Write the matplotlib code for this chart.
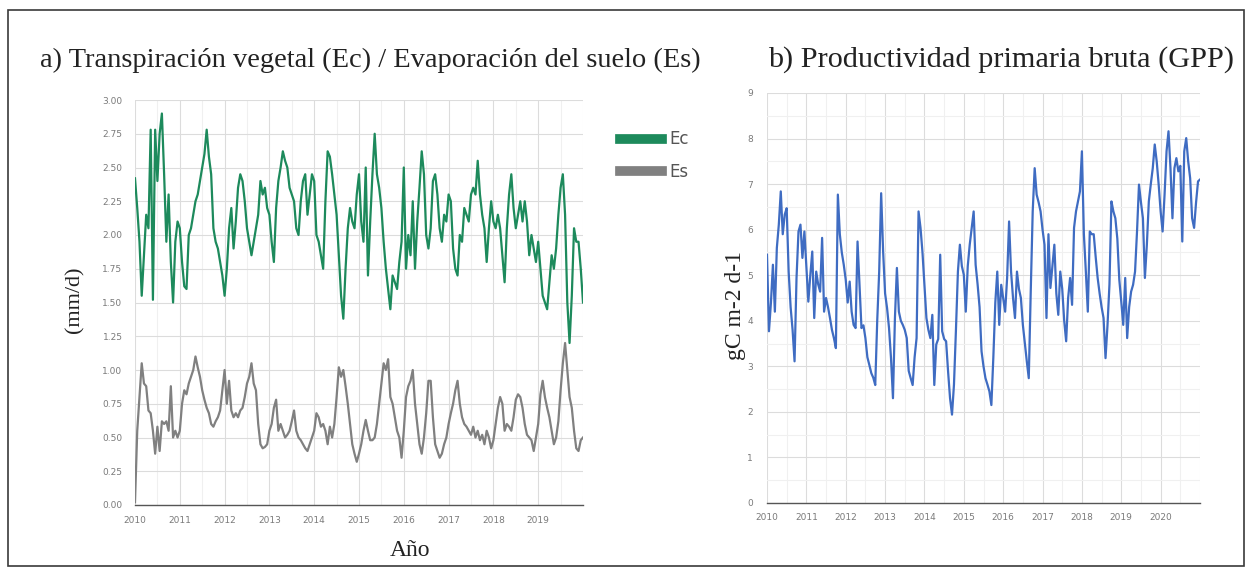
import numpy as np
import matplotlib
matplotlib.use("Agg")
import matplotlib.pyplot as plt
from matplotlib.lines import Line2D
from matplotlib.patches import Rectangle
from matplotlib.ticker import MultipleLocator

# ======================
# DATOS (20 valores por año)
# ======================
per_year = 20

# a) transpiración vegetal Ec (mm/d), 2010 -> 2020
ec = [
    2.42, 2.20, 1.95, 1.55, 1.85, 2.15, 2.05, 2.78, 1.52, 2.78, 2.40, 2.75, 2.90, 2.45, 1.95, 2.30, 1.80, 1.50, 1.95, 2.10,
    2.05, 1.80, 1.62, 1.60, 2.00, 2.05, 2.15, 2.25, 2.30, 2.40, 2.50, 2.60, 2.78, 2.58, 2.45, 2.05, 1.95, 1.90, 1.80, 1.70,
    1.55, 1.75, 2.05, 2.20, 1.90, 2.10, 2.35, 2.45, 2.40, 2.25, 2.05, 1.95, 1.85, 1.95, 2.05, 2.15, 2.40, 2.30, 2.35, 2.20,
    2.15, 1.95, 1.80, 2.20, 2.40, 2.50, 2.62, 2.55, 2.50, 2.35, 2.30, 2.25, 2.05, 2.00, 2.25, 2.40, 2.45, 2.15, 2.30, 2.45,
    2.40, 2.00, 1.95, 1.85, 1.75, 2.25, 2.62, 2.58, 2.45, 2.30, 2.15, 1.85, 1.55, 1.38, 1.75, 2.05, 2.20, 2.10, 2.05, 2.30,
    2.45, 2.10, 1.95, 2.50, 1.70, 2.10, 2.45, 2.75, 2.45, 2.35, 2.20, 1.95, 1.75, 1.60, 1.45, 1.70, 1.65, 1.60, 1.80, 1.95,
    2.50, 1.75, 2.00, 1.85, 2.25, 1.75, 2.10, 2.35, 2.62, 2.45, 2.00, 1.90, 2.05, 2.40, 2.45, 2.30, 2.05, 1.95, 2.15, 2.10,
    2.30, 2.25, 1.90, 1.75, 1.70, 2.00, 1.95, 2.20, 2.15, 2.10, 2.30, 2.35, 2.30, 2.55, 2.30, 2.15, 2.05, 1.80, 2.05, 2.25,
    2.10, 2.05, 2.15, 2.05, 1.85, 1.65, 2.05, 2.30, 2.45, 2.20, 2.05, 2.15, 2.25, 2.10, 2.25, 2.10, 1.85, 2.00, 1.90, 1.80,
    1.95, 1.75, 1.55, 1.50, 1.45, 1.65, 1.85, 1.75, 1.90, 2.15, 2.35, 2.45, 2.15, 1.50, 1.20, 1.55, 2.05, 1.95, 1.95, 1.75,
    1.50,
]

# a) evaporación del suelo Es (mm/d)
es = [
    0.02, 0.55, 0.80, 1.05, 0.90, 0.88, 0.70, 0.68, 0.55, 0.38, 0.58, 0.40, 0.62, 0.60, 0.62, 0.55, 0.88, 0.50, 0.55, 0.50,
    0.55, 0.75, 0.85, 0.82, 0.90, 0.95, 1.00, 1.10, 1.02, 0.95, 0.85, 0.78, 0.72, 0.68, 0.60, 0.58, 0.62, 0.65, 0.70, 0.85,
    1.00, 0.75, 0.92, 0.70, 0.65, 0.68, 0.65, 0.70, 0.72, 0.80, 0.90, 0.95, 1.05, 0.90, 0.85, 0.60, 0.45, 0.42, 0.43, 0.45,
    0.55, 0.60, 0.72, 0.78, 0.55, 0.60, 0.55, 0.50, 0.52, 0.55, 0.62, 0.70, 0.55, 0.50, 0.48, 0.45, 0.42, 0.40, 0.45, 0.50,
    0.55, 0.68, 0.65, 0.58, 0.60, 0.55, 0.45, 0.58, 0.50, 0.60, 0.80, 1.02, 0.95, 1.00, 0.88, 0.75, 0.60, 0.45, 0.38, 0.32,
    0.38, 0.45, 0.55, 0.63, 0.55, 0.48, 0.48, 0.50, 0.60, 0.75, 0.90, 1.05, 1.00, 1.08, 0.80, 0.75, 0.65, 0.55, 0.50, 0.35,
    0.55, 0.80, 0.88, 0.92, 1.00, 0.75, 0.60, 0.45, 0.38, 0.50, 0.68, 0.92, 0.92, 0.65, 0.45, 0.40, 0.35, 0.38, 0.45, 0.50,
    0.60, 0.68, 0.75, 0.85, 0.92, 0.75, 0.65, 0.60, 0.58, 0.55, 0.52, 0.58, 0.50, 0.55, 0.48, 0.52, 0.45, 0.55, 0.50, 0.42,
    0.48, 0.60, 0.72, 0.80, 0.75, 0.55, 0.60, 0.58, 0.55, 0.65, 0.78, 0.82, 0.80, 0.72, 0.60, 0.52, 0.50, 0.48, 0.40, 0.50,
    0.60, 0.82, 0.92, 0.80, 0.72, 0.65, 0.55, 0.45, 0.50, 0.62, 0.85, 1.05, 1.20, 1.00, 0.80, 0.72, 0.55, 0.42, 0.40, 0.48,
    0.50,
]

# b) productividad primaria bruta GPP (gC m-2 d-1), 2010 -> 2021
gpp = [
    5.45, 3.77, 4.40, 5.23, 4.20, 5.60, 6.11, 6.84, 5.90, 6.33, 6.47, 5.08, 4.30, 3.80, 3.11, 4.94, 5.96, 6.11, 5.38, 5.96,
    5.20, 4.42, 5.00, 5.52, 4.06, 5.08, 4.80, 4.64, 5.82, 4.20, 4.50, 4.30, 4.06, 3.80, 3.62, 3.40, 6.77, 5.90, 5.50, 5.23,
    4.90, 4.40, 4.86, 4.20, 3.91, 3.84, 5.74, 4.79, 3.84, 3.90, 3.62, 3.20, 3.03, 2.85, 2.75, 2.59, 4.00, 5.08, 6.80, 5.52,
    4.60, 4.28, 3.84, 3.18, 2.30, 4.06, 5.16, 4.20, 4.00, 3.91, 3.80, 3.62, 2.90, 2.74, 2.59, 3.20, 3.62, 6.40, 6.04, 5.50,
    4.79, 4.06, 3.80, 3.62, 4.13, 2.59, 3.48, 3.60, 5.45, 3.77, 3.60, 3.55, 2.89, 2.30, 1.94, 2.60, 3.80, 5.08, 5.67, 5.20,
    5.01, 4.20, 5.20, 5.67, 6.04, 6.40, 5.23, 4.80, 4.30, 3.33, 3.00, 2.74, 2.60, 2.45, 2.15, 3.20, 4.40, 5.08, 3.91, 4.79,
    4.50, 4.20, 4.94, 6.18, 5.08, 4.50, 4.06, 5.08, 4.70, 4.50, 3.91, 3.50, 3.11, 2.74, 4.64, 6.40, 7.35, 6.77, 6.60, 6.40,
    6.00, 5.67, 4.06, 5.90, 4.72, 5.20, 5.67, 4.60, 4.13, 5.08, 4.70, 4.00, 3.55, 4.50, 4.94, 4.35, 6.04, 6.40, 6.62, 6.84,
    7.72, 5.90, 5.08, 4.20, 5.96, 5.90, 5.90, 5.40, 4.94, 4.60, 4.30, 4.06, 3.18, 3.90, 4.80, 6.62, 6.40, 6.25, 5.80, 4.90,
    4.42, 3.91, 4.94, 3.62, 4.30, 4.64, 4.79, 5.08, 5.96, 6.99, 6.60, 6.25, 4.94, 5.67, 6.62, 7.00, 7.35, 7.87, 7.50, 6.99,
    6.40, 5.96, 6.77, 7.72, 8.16, 7.35, 6.25, 7.35, 7.57, 7.28, 7.40, 5.74, 7.72, 8.01, 7.50, 7.13, 6.25, 6.04, 6.60, 7.06,
    7.10,
]

years_a = list(range(2010, 2020))
years_b = list(range(2010, 2021))
yticks_a = [0, 0.25, 0.5, 0.75, 1.0, 1.25, 1.5, 1.75, 2.0, 2.25, 2.5, 2.75, 3.0]
yticks_b = list(range(0, 10))

t_a = 2010 + np.arange(len(ec)) / per_year
t_b = 2010 + np.arange(len(gpp)) / per_year

GREEN = "#1d8a5c"
GREY = "#808080"
BLUE = "#3f6cc2"
SERIF = "Liberation Serif"

W, H = 1252, 576
fig = plt.figure(figsize=(W / 100, H / 100), dpi=100)
fig.patches.append(Rectangle((8 / W, 10 / H), 1236 / W, 556 / H, transform=fig.transFigure,
                             fill=False, edgecolor="#3a3a3a", lw=1.2))


def style_axes(ax):
    for side in ["top", "right", "left"]:
        ax.spines[side].set_visible(False)
    ax.spines["bottom"].set_color("#555555")
    ax.spines["bottom"].set_linewidth(1.0)
    ax.xaxis.set_minor_locator(MultipleLocator(0.5))
    ax.grid(which="major", color="#dcdcdc", lw=0.8)
    ax.grid(which="minor", color="#f0f0f0", lw=0.8)
    ax.set_axisbelow(True)
    ax.tick_params(which="both", length=0, labelsize=6.5, colors="#7a7a7a")


# ======================
# a) Ec / Es
# ======================
ax1 = fig.add_axes([135 / W, 1 - 505 / H, 448 / W, 405 / H])
ax1.plot(t_a, ec, color=GREEN, lw=1.6)
ax1.plot(t_a, es, color=GREY, lw=1.6)
ax1.set_xlim(2010, 2020)
ax1.set_ylim(0, 3)
ax1.set_xticks(years_a)
ax1.set_yticks(yticks_a)
ax1.yaxis.set_major_formatter("{x:.2f}")
style_axes(ax1)
ax1.tick_params(axis="y", pad=9)
ax1.tick_params(axis="x", pad=8)

handles = [Line2D([0], [0], color=GREEN, lw=7), Line2D([0], [0], color=GREY, lw=7)]
ax1.legend(handles, ["Ec", "Es"], loc="upper left", bbox_to_anchor=(1.05, 0.962),
           frameon=False, handlelength=2.5, handletextpad=0.45, labelspacing=0.85,
           fontsize=12, labelcolor="#555555")

fig.text(40 / W, 1 - 60 / H, "a) Transpiración vegetal (Ec) / Evaporación del suelo (Es)",
         family=SERIF, fontsize=20.5, ha="left", va="center", color="#222222")
fig.text(75 / W, 1 - 300 / H, "(mm/d)", family=SERIF, fontsize=16, rotation=90,
         ha="center", va="center", color="#222222")
fig.text(410 / W, 1 - 550 / H, "Año", family=SERIF, fontsize=17, ha="center",
         va="center", color="#222222")

# ======================
# b) GPP
# ======================
ax2 = fig.add_axes([767 / W, 1 - 503 / H, 433 / W, 410 / H])
ax2.plot(t_b, gpp, color=BLUE, lw=1.6)
ax2.set_xlim(2010, 2021)
ax2.set_ylim(0, 9)
ax2.set_xticks(years_b)
ax2.set_yticks(yticks_b)
ax2.yaxis.set_minor_locator(MultipleLocator(0.5))
style_axes(ax2)
ax2.tick_params(axis="y", pad=10)
ax2.tick_params(axis="x", pad=7)

fig.text(768 / W, 1 - 60 / H, "b) Productividad primaria bruta (GPP)",
         family=SERIF, fontsize=21.8, ha="left", va="center", color="#222222")
fig.text(736 / W, 1 - 305 / H, "gC m-2 d-1", family=SERIF, fontsize=17, rotation=90,
         ha="center", va="center", color="#222222")

fig.savefig("out.png", dpi=100)
